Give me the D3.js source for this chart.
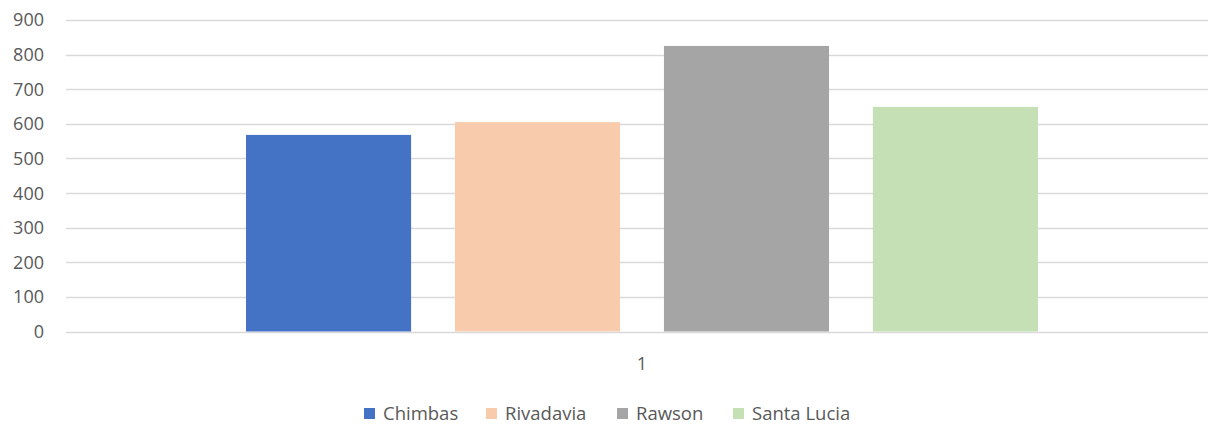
<!DOCTYPE html>
<html lang="en">
<head>
<meta charset="utf-8">
<title>Chart</title>
<script src="https://cdn.jsdelivr.net/npm/d3@7"></script>
<style>
  body { margin: 0; background: #fff; }
  text { font-family: "Open Sans", "Noto Sans", sans-serif; fill: #595959; }
</style>
</head>
<body>
<script>
var categories = ["1"];
var seriesNames = ["Chimbas", "Rivadavia", "Rawson", "Santa Lucia"];
var seriesValues = [568, 605, 825, 649];
var colors = ["#4472c4", "#f7cbac", "#a5a5a5", "#c5e0b4"];
var yTicks = [0, 100, 200, 300, 400, 500, 600, 700, 800, 900];

var w = 1208, h = 430;
var plotLeft = 66, plotRight = 1218, plotTop = 20, plotBottom = 331.5;

var svg = d3.select("body").append("svg")
  .attr("width", w)
  .attr("height", h);

var y = d3.scaleLinear().domain([0, 900]).range([plotBottom, plotTop]);

var x0 = d3.scaleBand().domain(categories).range([plotLeft, plotRight]).paddingInner(0).paddingOuter(0.2273);
var x1 = d3.scaleBand().domain(seriesNames).range([0, x0.bandwidth()]).paddingInner(0.21).paddingOuter(0);

// gridlines
svg.selectAll("line.grid")
  .data(yTicks)
  .enter()
  .append("line")
  .attr("x1", plotLeft)
  .attr("x2", w)
  .attr("y1", function(d) { return Math.round(y(d)) + 0.5; })
  .attr("y2", function(d) { return Math.round(y(d)) + 0.5; })
  .style("stroke", "#d9d9d9")
  .style("stroke-width", 1.3);

// y labels
svg.selectAll("text.ytick")
  .data(yTicks)
  .enter()
  .append("text")
  .attr("x", 44)
  .attr("y", function(d) { return y(d); })
  .attr("dy", "0.36em")
  .attr("text-anchor", "end")
  .style("font-size", "18px")
  .text(function(d) { return d; });

// bars
var g = svg.append("g").attr("transform", "translate(" + x0(categories[0]) + ",0)");
g.selectAll("rect")
  .data(seriesValues)
  .enter()
  .append("rect")
  .attr("x", function(d, i) { return x1(seriesNames[i]); })
  .attr("width", x1.bandwidth())
  .attr("y", function(d) { return y(d); })
  .attr("height", function(d) { return plotBottom - y(d); })
  .style("fill", function(d, i) { return colors[i]; });

// category label
svg.append("text")
  .attr("x", x0(categories[0]) + x0.bandwidth() / 2)
  .attr("y", 370)
  .attr("text-anchor", "middle")
  .style("font-size", "18px")
  .text(categories[0]);

// legend
var legendX = [364, 486, 617, 733];
var lg = svg.selectAll("g.legend")
  .data(seriesNames)
  .enter()
  .append("g")
  .attr("transform", function(d, i) { return "translate(" + legendX[i] + ",408)"; });
lg.append("rect")
  .attr("width", 11)
  .attr("height", 11)
  .style("fill", function(d, i) { return colors[i]; });
lg.append("text")
  .attr("x", 19)
  .attr("y", 12)
  .style("font-size", "18.5px")
  .text(function(d) { return d; });
</script>
</body>
</html>
